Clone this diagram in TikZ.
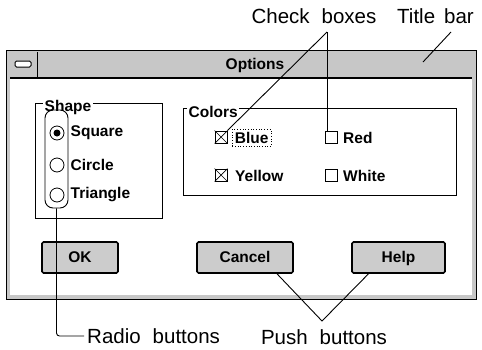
\documentclass[tikz,border=0pt]{standalone}
\usepackage{fontspec}
\setmainfont{Liberation Sans}
\begin{document}
\begin{tikzpicture}[x=1pt,y=-1pt,
  ann/.style={font=\fontsize{20.5}{21}\selectfont, inner sep=0pt},
  dlg/.style={font=\bfseries\fontsize{15.5}{16}\selectfont, inner sep=0pt},
  lead/.style={line width=0.9pt},
  cbox/.style={draw, line width=0.8pt, minimum size=12pt, inner sep=0pt},
  pbtn/.style={draw, line width=1.6pt, rounded corners=1.5pt, fill=black!20, minimum height=31pt, dlg, text height=11pt, text depth=1pt},
  grp/.style={draw, line width=0.8pt},
  glabel/.style={dlg, fill=white, inner xsep=1.5pt, inner ysep=1pt, anchor=west},
  radio/.style={circle, draw, line width=0.8pt, minimum size=14pt, inner sep=0pt}
]
\useasboundingbox (0,0) rectangle (482,349);
% dialog frame
\draw[line width=0.8pt, fill=black!22] (6,50) rectangle (476,299);
\fill[white] (10,79) rectangle (472,295);
\draw[line width=1.2pt] (10,78) -- (472,78);
\draw[line width=0.8pt] (37,52) -- (37,78);
\draw[line width=1pt, rounded corners=1.5pt, fill=white] (15,61) rectangle (31,67);
\node[dlg] (title) at (255,65) {Options};
% Shape group
\draw[grp] (35,103) rectangle (162,218);
\node[glabel] (shape) at (43,107) {Shape};
\node[draw, line width=0.9pt, rounded corners=8pt, minimum width=23pt, minimum height=98pt, inner sep=0pt] (rgroup) at (56.5,159) {};
\node[radio] (rsq) at (57,133) {};
\fill (rsq.center) circle (3.5pt);
\node[radio] (rci) at (57,165) {};
\node[radio] (rtr) at (57,195) {};
\node[dlg, anchor=west] (lsq) at (70.5,133) {Square};
\node[dlg, anchor=west] (lci) at (70.5,165) {Circle};
\node[dlg, anchor=west] (ltr) at (70.5,195) {Triangle};
% Colors group
\draw[grp] (183,108) rectangle (456,195);
\node[glabel] (colors) at (187,112) {Colors};
\node[cbox] (blue) at (221,137) {};
\draw[line width=0.7pt] (blue.north west) -- (blue.south east) (blue.north east) -- (blue.south west);
\node[dlg, anchor=west, draw, dotted, line width=0.7pt, inner xsep=2.5pt, inner ysep=3pt] (bluet) at (232,138) {Blue};
\node[cbox] (red) at (331,137) {};
\node[dlg, anchor=west] (redt) at (343,138) {Red};
\node[cbox] (yellow) at (221,175) {};
\draw[line width=0.7pt] (yellow.north west) -- (yellow.south east) (yellow.north east) -- (yellow.south west);
\node[dlg, anchor=west] (yellowt) at (235,176) {Yellow};
\node[cbox] (white) at (331,175) {};
\node[dlg, anchor=west] (whitet) at (343,176) {White};
% push buttons
\node[pbtn, minimum width=76pt] (ok) at (80,257.5) {OK};
\node[pbtn, minimum width=96pt] (cancel) at (245,257.5) {Cancel};
\node[pbtn, minimum width=93pt] (help) at (398.5,257.5) {Help};
% annotations
\node[ann] (cbt) at (314,16) {Check\hspace{12pt}boxes};
\node[ann, anchor=west] (tbt) at (397,16) {Title\hspace{9pt}bar};
\node[ann, anchor=west] (rbt) at (87,336) {Radio\hspace{12pt}buttons};
\node[ann] (pbt) at (324,337) {Push\hspace{12pt}buttons};
\coordinate (cbapex) at (327,32);
\coordinate (tb1) at (451,32);
\coordinate (tb2) at (423,62);
\coordinate (papex) at (322,321);
\draw[lead] (cbapex) -- (blue.north east);
\draw[lead] (cbapex) -- (cbapex |- red.north);
\draw[lead] (tb1) -- (tb2);
\draw[lead, rounded corners=3pt] (rgroup.south) |- ([xshift=-3pt]rbt.west);
\draw[lead] ([xshift=32pt]cancel.south) -- (papex) -- ([xshift=-30pt]help.south);
\end{tikzpicture}
\end{document}
